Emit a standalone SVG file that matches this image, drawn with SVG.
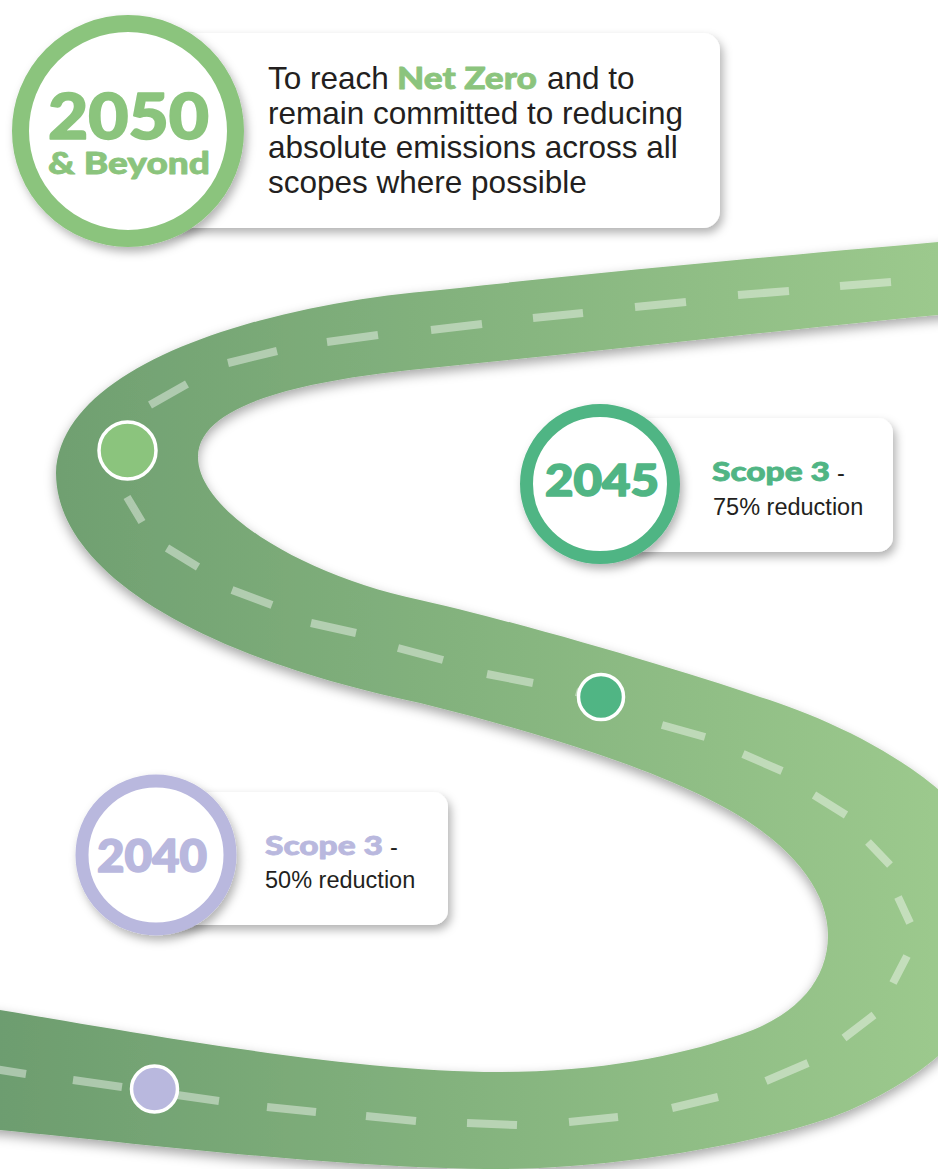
<svg xmlns="http://www.w3.org/2000/svg" width="938" height="1169" viewBox="0 0 938 1169">
<defs>
<linearGradient id="roadGrad" gradientUnits="userSpaceOnUse" x1="0" y1="0" x2="938" y2="0">
<stop offset="0" stop-color="#6d9d6f"/>
<stop offset="0.5" stop-color="#84b37e"/>
<stop offset="1" stop-color="#9cc98d"/>
</linearGradient>
<filter id="roadShadow" x="-10%" y="-10%" width="120%" height="120%">
<feDropShadow dx="0" dy="5" stdDeviation="6" flood-color="#000" flood-opacity="0.35"/>
</filter>
<filter id="shadow" x="-20%" y="-20%" width="150%" height="160%">
<feDropShadow dx="3" dy="5" stdDeviation="5" flood-color="#000" flood-opacity="0.3"/>
</filter>
</defs>
<style>
.box{fill:#fff;filter:url(#shadow)}
.ring{fill:#fff;filter:url(#shadow)}
.body{font-family:"Liberation Sans",Arial,sans-serif;fill:#231f20}
.heavy{font-family:Lato,"Liberation Sans",sans-serif;font-weight:900;stroke-linejoin:round}
.big{stroke-width:1.6}
.small{stroke-width:0.8}
.t1{fill:#8bc47d;stroke:#8bc47d}
.t2{fill:#50b584;stroke:#50b584}
.t3{fill:#b9b8de;stroke:#b9b8de}
.stem{stroke-width:12;fill:none;filter:url(#shadow)}
.dot{stroke:#fff;stroke-width:3.5}
</style>
<rect width="938" height="1169" fill="#fff"/>
<g id="road">
<path filter="url(#roadShadow)" fill="url(#roadGrad)" d="M938,242 C800,254 600,272 440,290 C260,305 60,365 56,473 C56,560 170,650 420,703 C520,728 640,762 720,805 C790,842 828,890 828,935 C828,985 790,1020 733,1037 C680,1055 600,1072 500,1072 C350,1072 150,1035 0,1010 L-30,1005 L-30,1128 L0,1130 C150,1145 350,1169 500,1169 C620,1169 780,1140 850,1110 C930,1075 1010,1010 1010,920 C1010,800 850,725 760,697 C680,670 530,625 420,600 C300,575 198,510 198,457 C198,400 320,378 440,367 C600,351 800,328 938,315 L960,313 L960,240 Z"/>
<path fill="none" stroke="#fff" stroke-opacity="0.42" stroke-width="8" stroke-linecap="butt" d="M840,286 L891,282 M738,295 L789,291 M635,307 L686,302 M533,318 L583,313 M431,330 L482,324 M327,342 L378,335 M228,363 L277,351 M150,405 L187,384 M127,497 L142,522 M167,548 L198,567 M232,590 L272,605 M311,623 L356,633 M398,648 L443,660 M487,674 L533,683 M576,692 L622,705 M662,725 L705,737 M743,754 L782,771 M814,795 L846,815 M868,842 L890,865 M898,897 L910,923 M907,956 L893,983 M874,1015 L844,1038 M808,1063 L766,1081 M718,1097 L672,1108 M618,1117 L569,1122 M517,1125 L467,1123 M416,1121 L366,1116 M316,1112 L267,1107 M219,1101 L170,1094 M122,1087 L73,1080 M26,1074 L-25,1066"/>
</g>
<g id="connectors">
<line class="stem" x1="127.5" y1="235" x2="127.5" y2="450" stroke="#8bc47d"/>
<line class="stem" x1="601" y1="555" x2="601" y2="697" stroke="#50b584"/>
<line class="stem" x1="155" y1="925" x2="155" y2="1089" stroke="#b9b8de"/>
</g>
<g id="node-2050">
<rect class="box" x="128" y="33" width="592" height="195" rx="17"/>
<circle class="ring" cx="128" cy="131" r="107.5" stroke="#8bc47d" stroke-width="17"/>
<text class="heavy t1" text-anchor="middle"><tspan class="big" x="128.5" y="139" font-size="62" textLength="161" lengthAdjust="spacingAndGlyphs">2050</tspan><tspan class="small" x="129" y="174" font-size="30" textLength="162" lengthAdjust="spacingAndGlyphs">&amp; Beyond</tspan></text>
<text class="body" x="268" y="89" font-size="31.5">To reach</text>
<text class="heavy small t1" x="397" y="89" font-size="31" textLength="140" lengthAdjust="spacingAndGlyphs">Net Zero</text>
<text class="body" x="547" y="89" font-size="31.5">and to</text>
<text class="body" x="268" y="123.5" font-size="31.5">remain committed to reducing</text>
<text class="body" x="268" y="158" font-size="31.5">absolute emissions across all</text>
<text class="body" x="268" y="192.5" font-size="31.5">scopes where possible</text>
<circle class="dot" cx="127.5" cy="450.5" r="28.5" fill="#8bc47d"/>
</g>
<g id="node-2045">
<rect class="box" x="600" y="418" width="293" height="134" rx="15"/>
<circle class="ring" cx="600" cy="484" r="73.5" stroke="#50b584" stroke-width="13"/>
<text class="heavy big t2" x="602" y="496" font-size="44" text-anchor="middle" textLength="114" lengthAdjust="spacingAndGlyphs">2045</text>
<text class="heavy small t2" x="712" y="481" font-size="26" textLength="118" lengthAdjust="spacingAndGlyphs">Scope 3</text>
<text class="body" x="837" y="481" font-size="23.5">-</text>
<text class="body" x="713" y="515" font-size="23.5">75% reduction</text>
<circle class="dot" cx="601" cy="697" r="22.5" stroke-width="3" fill="#50b584"/>
</g>
<g id="node-2040">
<rect class="box" x="156" y="792" width="292" height="133" rx="15"/>
<circle class="ring" cx="156" cy="855" r="74" stroke="#b9b8de" stroke-width="13"/>
<text class="heavy big t3" x="152" y="872" font-size="45" text-anchor="middle" textLength="110" lengthAdjust="spacingAndGlyphs">2040</text>
<text class="heavy small t3" x="265" y="855" font-size="26" textLength="118" lengthAdjust="spacingAndGlyphs">Scope 3</text>
<text class="body" x="390" y="855" font-size="23.5">-</text>
<text class="body" x="265" y="888" font-size="23.5">50% reduction</text>
<circle class="dot" cx="154.5" cy="1089" r="23" fill="#b9b8de"/>
</g>
</svg>
